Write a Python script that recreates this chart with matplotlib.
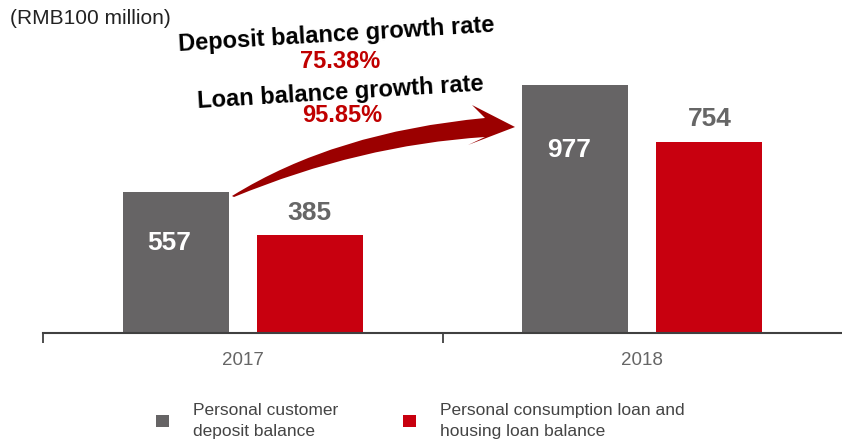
import numpy as np
import matplotlib.pyplot as plt
from matplotlib.path import Path
from matplotlib.patches import PathPatch

years = ["2017", "2018"]
deposit = [557, 977]
loan = [385, 754]
series_names = ["Personal customer\ndeposit balance",
                "Personal consumption loan and\nhousing loan balance"]
deposit_rate = "75.38%"
loan_rate = "95.85%"

grey = "#666465"
red = "#C8000F"
label_grey = "#666666"
dark_red = "#9B0000"

plt.rcParams['font.family'] = ['Liberation Sans', 'DejaVu Sans']

W, H = 842, 442
fig = plt.figure(figsize=(W / 100, H / 100), dpi=100)
ax = fig.add_axes([43 / W, (H - 333) / H, (W - 43) / W, 333 / H])

x = np.arange(len(years))
off = 0.168
bw = 0.265
b1 = ax.bar(x - off, deposit, bw, color=grey, label=series_names[0])
b2 = ax.bar(x + off, loan, bw, color=red, label=series_names[1])

ax.set_xlim(-0.5, 1.5)
ax.set_ylim(0, 1313)

# where the white labels sit inside the grey bars (fraction of bar height)
inner_frac = [0.64, 0.74]
for xi, v, f in zip(x, deposit, inner_frac):
    ax.text(xi - off - 0.015, v * f, str(v), ha="center", va="center",
            color="white", fontsize=19, fontweight="bold")
for xi, v in zip(x, loan):
    ax.text(xi + off, v + 90, str(v), ha="center", va="center",
            color=label_grey, fontsize=19, fontweight="bold")

for s in ["top", "right", "left"]:
    ax.spines[s].set_visible(False)
ax.spines["bottom"].set_color("#404040")
ax.spines["bottom"].set_linewidth(1.5)
ax.set_yticks([])
ax.set_xticks(x)
ax.set_xticklabels(years, fontsize=13.5, color=label_grey)
ax.tick_params(axis="x", which="major", length=0, pad=14)
ax.set_xticks([-0.5, 0.5], minor=True)
ax.tick_params(axis="x", which="minor", length=7, width=1.3, color="#404040", direction="out")

# unit label
fig.text(10 / W, 1 - 18 / H, "(RMB100 million)", fontsize=15, ha="left", va="center", color="#222222")


def fp(px, py):
    return (px / W, 1 - py / H)


# curved tapered arrow
verts = [fp(232, 196), fp(335, 132), fp(485, 118),
         fp(472, 105), fp(515, 127), fp(468, 145), fp(485, 137),
         fp(360, 145), fp(234, 197), fp(232, 196)]
codes = [Path.MOVETO, Path.CURVE3, Path.CURVE3,
         Path.LINETO, Path.LINETO, Path.LINETO, Path.LINETO,
         Path.CURVE3, Path.CURVE3, Path.CLOSEPOLY]
fig.add_artist(PathPatch(Path(verts, codes), facecolor=dark_red, edgecolor="none",
                         transform=fig.transFigure))

fig.text(336 / W, 1 - 35 / H, "Deposit balance growth rate", fontsize=17, fontweight="bold",
         ha="center", va="center", rotation=3.5, rotation_mode="anchor")
fig.text(340 / W, 1 - 61 / H, deposit_rate, fontsize=17, fontweight="bold", color="#C00000",
         ha="center", va="center")
fig.text(340 / W, 1 - 93 / H, "Loan balance growth rate", fontsize=17, fontweight="bold",
         ha="center", va="center", rotation=3.5, rotation_mode="anchor")
fig.text(342 / W, 1 - 116 / H, loan_rate, fontsize=17, fontweight="bold", color="#C00000",
         ha="center", va="center")

leg = fig.legend(handles=[b1, b2], labels=series_names, loc="center left",
                 bbox_to_anchor=(156 / W, 1 - 421 / H), ncol=2, frameon=False,
                 prop={"size": 12.5}, labelcolor="#444444",
                 handlelength=0.75, handleheight=0.75, handletextpad=1.4,
                 columnspacing=3.7, borderpad=0, borderaxespad=0)
for t in leg.get_texts():
    t.set_linespacing(1.45)

fig.savefig("out.png", dpi=100)
